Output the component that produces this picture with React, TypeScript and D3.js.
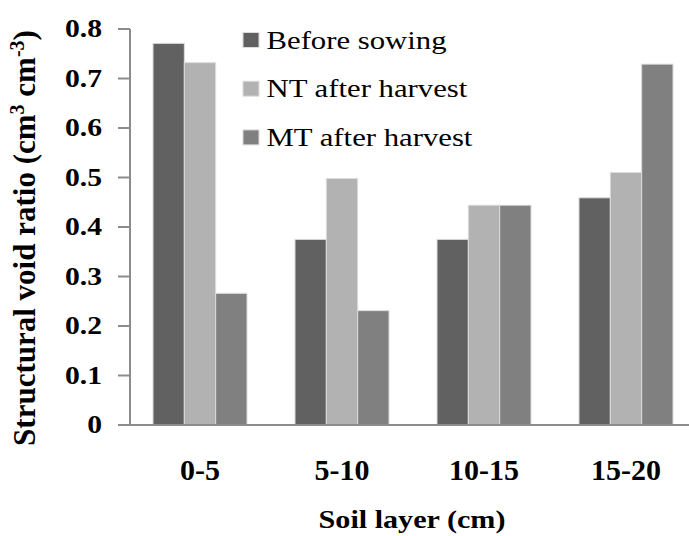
import React from "react";
import * as d3 from "d3";

const categories = ["0-5", "5-10", "10-15", "15-20"];
const seriesNames = ["Before sowing", "NT after harvest", "MT after harvest"];
const beforeSowing = [0.771, 0.375, 0.375, 0.459];
const ntAfterHarvest = [0.732, 0.498, 0.444, 0.51];
const mtAfterHarvest = [0.266, 0.231, 0.444, 0.729];
const seriesValues = [beforeSowing, ntAfterHarvest, mtAfterHarvest];
const colors = ["#616161", "#b2b2b2", "#808080"];
const yTicks = [0, 0.1, 0.2, 0.3, 0.4, 0.5, 0.6, 0.7, 0.8];

const W = 689;
const H = 536;
const FONT = "'Liberation Serif', 'Times New Roman', serif";

export default function App() {
  const x = d3.scaleBand<string>().domain(categories).range([129, 697]).padding(0);
  const inner = d3
    .scaleBand<number>()
    .domain([0, 1, 2])
    .range([24, x.bandwidth() - 24])
    .padding(0);
  const y = d3.scaleLinear().domain([0, 0.8]).range([425, 29]);
  const axisColor = "#8c8c8c";

  return (
    <svg
      width={W}
      height={H}
      style={{ position: "absolute", left: 0, top: 0, background: "#fff" }}
      fontFamily={FONT}
    >
      <rect x={0} y={0} width={W} height={H} fill="#fff" />
      {/* bars */}
      {seriesValues.map((vals, si) =>
        vals.map((v, ci) => (
          <rect
            key={`${si}-${ci}`}
            x={(x(categories[ci]) as number) + (inner(si) as number)}
            y={y(v)}
            width={inner.bandwidth()}
            height={y(0) - y(v)}
            fill={colors[si]}
            stroke="#dcdcdc"
            strokeWidth={1}
          />
        ))
      )}
      {/* y axis */}
      <line x1={130} x2={130} y1={y(0.8)} y2={y(0)} stroke={axisColor} strokeWidth={2} />
      {yTicks.map((t) => (
        <g key={t}>
          <line x1={118} x2={130} y1={y(t)} y2={y(t)} stroke={axisColor} strokeWidth={2} />
          <text
            transform={`translate(102, ${y(t) + 8.3}) scale(1.2, 1)`}
            textAnchor="end"
            fontWeight="bold"
            fontSize={24.7}
            fill="#000"
          >
            {t === 0 ? "0" : d3.format(".1f")(t)}
          </text>
        </g>
      ))}
      {/* x axis */}
      <line x1={129} x2={W} y1={y(0)} y2={y(0)} stroke={axisColor} strokeWidth={2} />
      {categories.map((c) => (
        <text
          key={c}
          x={(x(c) as number) + x.bandwidth() / 2}
          y={480}
          textAnchor="middle"
          fontWeight="bold"
          fontSize={30}
          fill="#000"
        >
          {c}
        </text>
      ))}
      {/* axis titles */}
      <text
        transform={`translate(412, 528) scale(1.23, 1)`}
        textAnchor="middle"
        fontWeight="bold"
        fontSize={24.5}
        fill="#000"
      >
        Soil layer (cm)
      </text>
      <text
        transform={`translate(35, 238) rotate(-90)`}
        textAnchor="middle"
        fontWeight="bold"
        fontSize={31}
        fill="#000"
      >
        Structural void ratio (cm
        <tspan dy={-11} fontSize={20}>3</tspan>
        <tspan dy={11}> cm</tspan>
        <tspan dy={-11} fontSize={20}>-3</tspan>
        <tspan dy={11}>)</tspan>
      </text>
      {/* legend */}
      {seriesNames.map((name, i) => {
        const cy = 40 + i * 48.7;
        return (
          <g key={name}>
            <rect x={243} y={cy - 7.5} width={16} height={15} fill={colors[i]} stroke="#dcdcdc" strokeWidth={1} />
            <text
              transform={`translate(266.5, ${cy + 8.5}) scale(1.22, 1)`}
              fontSize={25.2}
              fill="#000"
            >
              {name}
            </text>
          </g>
        );
      })}
    </svg>
  );
}
